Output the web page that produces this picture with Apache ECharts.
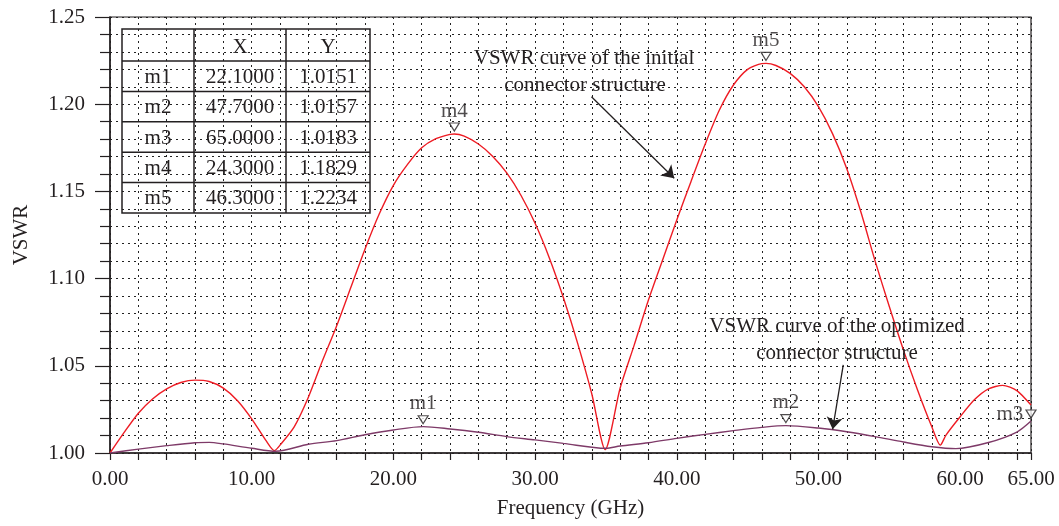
<!DOCTYPE html>
<html>
<head>
<meta charset="utf-8">
<script src="https://cdn.jsdelivr.net/npm/echarts@6/dist/echarts.min.js"></script>
<style>
html, body { margin: 0; padding: 0; background: #fff; }
#chart { width: 1059px; height: 526px; }
</style>
</head>
<body>
<div id="chart"></div>
<script>
// VSWR of the initial connector structure
var initialFreq = [0, 1, 2, 3, 4, 5, 6, 7, 8, 9, 10, 11, 11.6, 12, 13, 14, 15, 16, 17, 18, 19, 20, 21, 22, 23, 24, 24.3, 25, 26, 27, 28, 29, 30, 31, 32, 33, 34, 34.95, 36, 37, 38, 39, 40, 41, 42, 43, 44, 45, 46, 46.3, 47, 48, 49, 50, 51, 52, 53, 54, 55, 56, 57, 58, 58.6, 59, 60, 61, 62, 63, 64, 65];
var initialVswr = [1.0000, 1.0118, 1.0228, 1.0310, 1.0368, 1.0404, 1.0418, 1.0410, 1.0372, 1.0300, 1.0196, 1.0072, 1.0013, 1.0045, 1.0150, 1.0320, 1.0530, 1.0730, 1.0950, 1.1170, 1.1370, 1.1535, 1.1655, 1.1750, 1.1802, 1.1827, 1.1829, 1.1817, 1.1772, 1.1702, 1.1606, 1.1478, 1.1317, 1.1120, 1.0890, 1.0630, 1.0340, 1.0020, 1.0371, 1.0620, 1.0877, 1.1107, 1.1336, 1.1556, 1.1770, 1.1965, 1.2110, 1.2200, 1.2233, 1.2234, 1.2222, 1.2177, 1.2100, 1.1986, 1.1830, 1.1630, 1.1380, 1.1100, 1.0840, 1.0590, 1.0360, 1.0150, 1.0045, 1.0103, 1.0208, 1.0305, 1.0368, 1.0388, 1.0358, 1.0275];

// VSWR of the optimized connector structure
var optimizedFreq = [0, 2, 4, 6, 7, 8, 10, 11.7, 14, 16, 18, 20, 22.1, 24, 26, 28, 30, 32, 35, 36, 38, 40, 42, 44, 46, 47.7, 50, 52, 54, 56, 58, 59.7, 62, 64, 65];
var optimizedVswr = [1.0000, 1.0022, 1.0042, 1.0059, 1.0061, 1.0052, 1.0027, 1.0010, 1.0050, 1.0071, 1.0105, 1.0132, 1.0151, 1.0138, 1.0119, 1.0094, 1.0075, 1.0055, 1.0027, 1.0040, 1.0059, 1.0084, 1.0107, 1.0128, 1.0147, 1.0157, 1.0143, 1.0122, 1.0094, 1.0063, 1.0036, 1.0025, 1.0060, 1.0120, 1.0183];

// markers
var markerNames = ['m1', 'm2', 'm3', 'm4', 'm5'];
var markerX = [22.1, 47.7, 65.0, 24.3, 46.3];
var markerY = [1.0151, 1.0157, 1.0183, 1.1829, 1.2234];
var tableHeader = ['', 'X', 'Y'];

// annotation arrows [from, to] in data units
var arrowInitial = [[33.98, 1.2043], [39.82, 1.1575]];
var arrowOptimized = [[51.75, 1.0505], [51.0, 1.0136]];

var FONT = '"Liberation Serif", "DejaVu Serif", serif';
var INK = '#231f20';

function pairs(xs, ys) {
	return xs.map(function(x, i) { return [x, ys[i]]; });
}

// marker table
function buildTable() {
	var left = 122, top = 29;
	var colW = [72, 92, 84];
	var headH = 32, rowH = 30.4;
	var width = colW[0] + colW[1] + colW[2];
	var height = headH + rowH * markerNames.length;
	var els = [{
		type: 'rect',
		shape: { x: left, y: top, width: width, height: height },
		style: { fill: '#fff', stroke: INK, lineWidth: 1.5 }
	}];
	var cx = [left, left + colW[0], left + colW[0] + colW[1]];
	[cx[1], cx[2]].forEach(function(x) {
		els.push({ type: 'line', shape: { x1: x, y1: top, x2: x, y2: top + height }, style: { stroke: INK, lineWidth: 1.5 } });
	});
	for (var r = 0; r < markerNames.length; r++) {
		var y = top + headH + rowH * r;
		els.push({ type: 'line', shape: { x1: left, y1: y, x2: left + width, y2: y }, style: { stroke: INK, lineWidth: 1.5 } });
	}
	var rows = [tableHeader];
	markerNames.forEach(function(n, i) {
		rows.push([n, markerX[i].toFixed(4), markerY[i].toFixed(4)]);
	});
	rows.forEach(function(row, r) {
		var yc = r === 0 ? top + headH / 2 + 2 : top + headH + rowH * (r - 1) + rowH / 2 + 1;
		row.forEach(function(txt, c) {
			els.push({
				type: 'text',
				style: {
					text: txt, x: cx[c] + colW[c] / 2, y: yc,
					textAlign: 'center', textVerticalAlign: 'middle',
					font: '21px ' + FONT, fill: INK
				}
			});
		});
	});
	return { type: 'group', z: 100, children: els };
}

function note(text, x, y) {
	return {
		type: 'text', z: 50,
		style: { text: text, x: x, y: y, textAlign: 'center', textVerticalAlign: 'middle', font: '21px ' + FONT, fill: INK }
	};
}

var chart = echarts.init(document.getElementById('chart'));
var dotted = { color: '#222', width: 1, type: [2, 4] };

var option = {
	backgroundColor: '#fff',
	animation: false,
	textStyle: { fontFamily: FONT, color: INK },
	grid: {
		left: 110, right: 28, top: 17, bottom: 73,
		show: true, borderColor: INK, borderWidth: 1.2, backgroundColor: 'transparent'
	},
	xAxis: {
		type: 'value', min: 0, max: 65, interval: 2,
		name: 'Frequency (GHz)', nameLocation: 'middle', nameGap: 45,
		nameTextStyle: { fontSize: 21, fontFamily: FONT, color: INK },
		axisLine: { lineStyle: { color: INK, width: 1.5 } },
		axisTick: { length: 7, lineStyle: { color: INK, width: 1.2 } },
		axisLabel: {
			fontSize: 21, fontFamily: FONT, color: INK, margin: 16,
			formatter: function(v) { return (v % 10 === 0 || v === 65) ? v.toFixed(2) : ''; }
		},
		splitLine: { show: true, lineStyle: dotted }
	},
	yAxis: {
		type: 'value', min: 1.0, max: 1.25, interval: 0.05,
		name: 'VSWR', nameLocation: 'middle', nameGap: 78,
		nameTextStyle: { fontSize: 21, fontFamily: FONT, color: INK },
		axisLine: { show: true, lineStyle: { color: INK, width: 1.5 } },
		axisTick: { length: 15, lineStyle: { color: INK, width: 1.2 } },
		minorTick: { show: true, splitNumber: 5, length: 10, lineStyle: { color: INK, width: 1.2 } },
		axisLabel: {
			fontSize: 21, fontFamily: FONT, color: INK, margin: 25,
			formatter: function(v) { return v.toFixed(2); }
		},
		splitLine: { show: true, lineStyle: dotted },
		minorSplitLine: { show: true, lineStyle: dotted }
	},
	series: [{
		name: 'initial',
		type: 'line',
		data: pairs(initialFreq, initialVswr),
		showSymbol: false,
		smooth: 0.25,
		lineStyle: { color: '#ee1c24', width: 1.4 },
		z: 3,
		markLine: {
			silent: true, symbol: ['none', 'arrow'], symbolSize: 12,
			label: { show: false },
			lineStyle: { color: INK, width: 1.3, type: 'solid' },
			data: [[{ coord: arrowInitial[0] }, { coord: arrowInitial[1] }]]
		}
	}, {
		name: 'optimized',
		type: 'line',
		data: pairs(optimizedFreq, optimizedVswr),
		showSymbol: false,
		smooth: 0.3,
		lineStyle: { color: '#7e3a68', width: 1.4 },
		z: 3,
		markLine: {
			silent: true, symbol: ['none', 'arrow'], symbolSize: 12,
			label: { show: false },
			lineStyle: { color: INK, width: 1.3, type: 'solid' },
			data: [[{ coord: arrowOptimized[0] }, { coord: arrowOptimized[1] }]]
		}
	}, {
		name: 'markers',
		type: 'scatter',
		data: markerNames.map(function(n, i) {
			return {
				name: n, value: [markerX[i], markerY[i]],
				label: n === 'm3' ? { position: 'left', distance: 2 } : undefined
			};
		}),
		symbol: 'triangle', symbolRotate: 180, symbolSize: [10, 8], symbolOffset: [0, -7],
		itemStyle: { color: '#fff', borderColor: INK, borderWidth: 1.2 },
		label: {
			show: true, position: 'top', distance: 1,
			formatter: '{b}', fontSize: 21, fontFamily: FONT, color: INK
		},
		z: 5
	}],
	graphic: [
		buildTable(),
		note('VSWR curve of the initial', 584, 58),
		note('connector structure', 585, 85),
		note('VSWR curve of the optimized', 837, 326),
		note('connector structure', 837, 353)
	]
};
chart.setOption(option);
</script>
</body>
</html>
